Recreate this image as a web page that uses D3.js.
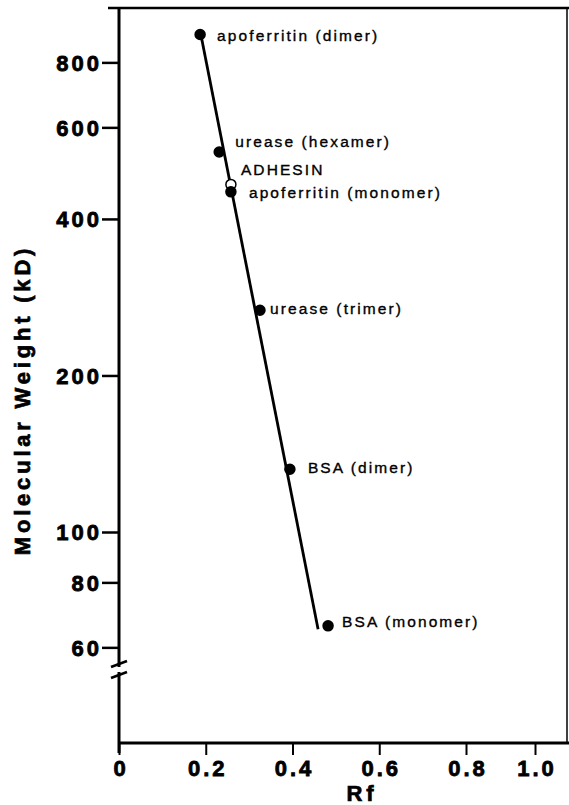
<!DOCTYPE html>
<html>
<head>
<meta charset="utf-8">
<script src="https://cdn.jsdelivr.net/npm/d3@7/dist/d3.min.js"></script>
<style>
  html, body { margin: 0; padding: 0; background: #fff; }
  svg { display: block; }
  .tick-label { font-family: "Liberation Sans", Arial, sans-serif; font-weight: bold; font-size: 22px; letter-spacing: 3px; stroke: #000; stroke-width: 0.8px; }
  .axis-title { font-family: "Liberation Sans", Arial, sans-serif; font-weight: bold; font-size: 22px; letter-spacing: 3.8px; stroke: #000; stroke-width: 0.7px; }
  .pt-label { font-family: "Liberation Sans", Arial, sans-serif; font-size: 15.5px; letter-spacing: 2.1px; stroke: #000; stroke-width: 0.35px; }
</style>
</head>
<body>
<svg id="chart" width="569" height="805"></svg>
<script>
// data
const proteins = ["apoferritin (dimer)", "urease (hexamer)", "ADHESIN", "apoferritin (monomer)", "urease (trimer)", "BSA (dimer)", "BSA (monomer)"];
const rfValues = [0.187, 0.231, 0.258, 0.258, 0.325, 0.394, 0.482];
const mwValues = [905, 538, 466, 451, 267, 132, 66];
const isOpen = [false, false, true, false, false, false, false];
const fitRf = [0.187, 0.459];
const fitMw = [920, 65];
const yTicks = [60, 80, 100, 200, 400, 600, 800];
const xTicks = [0, 0.2, 0.4, 0.6, 0.8, 1.0];

const svg = d3.select("#chart");

// the printed x axis is not quite evenly spaced at the right end
const x = d3.scaleLinear().domain([0, 0.8, 1.0, 1.09]).range([119, 466, 535, 567]);
const y = d3.scaleLog().domain([100, 1000]).range([532, 12]);

const axisBottom = 743, axisLeft = 119, frameTop = 8, frameRight = 567;

// frame: top and right
svg.append("line").attr("x1", 108).attr("x2", 569).attr("y1", frameTop).attr("y2", frameTop)
  .attr("stroke", "#000").attr("stroke-width", 2.5);
svg.append("line").attr("x1", frameRight).attr("x2", frameRight).attr("y1", frameTop).attr("y2", axisBottom)
  .attr("stroke", "#000").attr("stroke-width", 1.5);

// y axis with break
const breakTop = 664, breakBot = 675;
svg.append("line").attr("x1", axisLeft).attr("x2", axisLeft).attr("y1", frameTop).attr("y2", breakTop + 3)
  .attr("stroke", "#000").attr("stroke-width", 3);
svg.append("line").attr("x1", axisLeft).attr("x2", axisLeft).attr("y1", breakBot - 3).attr("y2", axisBottom + 10)
  .attr("stroke", "#000").attr("stroke-width", 3);
[breakTop, breakBot].forEach(b => {
  svg.append("line").attr("x1", axisLeft - 8).attr("x2", axisLeft + 8).attr("y1", b + 3).attr("y2", b - 3)
    .attr("stroke", "#000").attr("stroke-width", 2.5);
});

// x axis
svg.append("line").attr("x1", axisLeft).attr("x2", frameRight + 2).attr("y1", axisBottom).attr("y2", axisBottom)
  .attr("stroke", "#000").attr("stroke-width", 3);

const yAxis = d3.axisLeft(y).tickValues(yTicks).tickSize(17).tickPadding(0).tickFormat(d3.format("d"));
const gy = svg.append("g").attr("transform", `translate(${axisLeft},0)`).call(yAxis);
gy.select(".domain").remove();
gy.selectAll(".tick line").attr("stroke-width", 2.5);
gy.selectAll(".tick text").attr("class", "tick-label").attr("font-size", null).attr("font-family", null).attr("dy", "0.36em");

const xAxis = d3.axisBottom(x).tickValues(xTicks).tickSize(12).tickPadding(5)
  .tickFormat(d => d === 0 ? "0" : d3.format(".1f")(d));
const gx = svg.append("g").attr("transform", `translate(0,${axisBottom})`).call(xAxis);
gx.select(".domain").remove();
gx.selectAll(".tick line").attr("stroke-width", 2);
gx.selectAll(".tick text").attr("class", "tick-label").attr("font-size", null).attr("font-family", null)
  .attr("text-anchor", "middle").attr("dx", "0.07em");

// axis titles
svg.append("text").attr("class", "axis-title").attr("text-anchor", "middle")
  .attr("transform", "translate(30,400) rotate(-90)").text("Molecular Weight (kD)");
svg.append("text").attr("class", "axis-title").attr("text-anchor", "middle")
  .attr("x", 362).attr("y", 801).text("Rf");

// fitted line
svg.append("line")
  .attr("x1", x(fitRf[0])).attr("y1", y(fitMw[0]))
  .attr("x2", x(fitRf[1])).attr("y2", y(fitMw[1]))
  .attr("stroke", "#000").attr("stroke-width", 2.8);

// points
const pts = proteins.map((p, i) => ({ name: p, rf: rfValues[i], mw: mwValues[i], open: isOpen[i] }));
svg.selectAll("circle.pt").data(pts).enter().append("circle")
  .attr("class", "pt")
  .attr("cx", d => x(d.rf)).attr("cy", d => y(d.mw)).attr("r", 5)
  .attr("fill", d => d.open ? "#fff" : "#000")
  .attr("stroke", "#000").attr("stroke-width", 1.5);

// label nudges (dx, dy) relative to each point
const nudge = {
  "apoferritin (dimer)": [17, 6],
  "urease (hexamer)": [16, -5],
  "ADHESIN": [10, -9],
  "apoferritin (monomer)": [18, 6],
  "urease (trimer)": [10, 4],
  "BSA (dimer)": [18, 4],
  "BSA (monomer)": [14, 1]
};
svg.selectAll("text.pt-label").data(pts).enter().append("text")
  .attr("class", "pt-label")
  .attr("x", d => x(d.rf) + nudge[d.name][0])
  .attr("y", d => y(d.mw) + nudge[d.name][1])
  .text(d => d.name);
</script>
</body>
</html>
